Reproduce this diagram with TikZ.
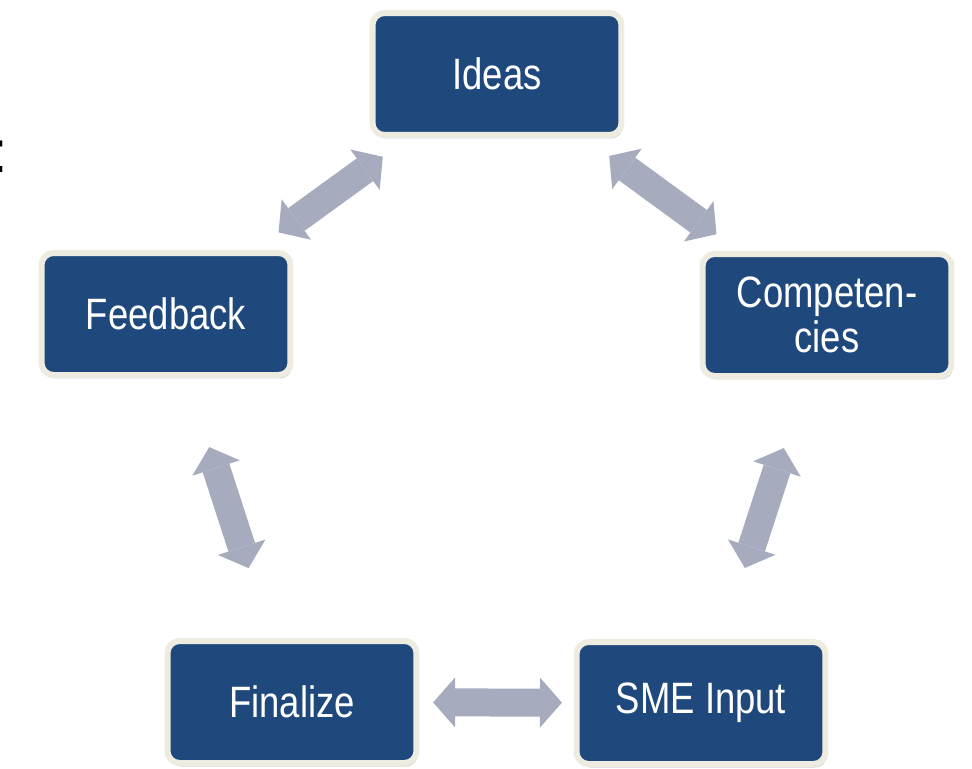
\documentclass[tikz,border=0pt]{standalone}
\usepackage{fontspec}
\setmainfont[FakeStretch=0.83]{Liberation Sans}
\usetikzlibrary{arrows.meta,calc,shadows}
\definecolor{boxblue}{HTML}{1F497D}
\definecolor{boxrim}{HTML}{EEECE1}
\definecolor{linkgray}{HTML}{A6ACBD}
\tikzset{
  stage/.style={draw=boxrim, line width=0.12cm, fill=boxblue, rounded corners=0.24cm,
    minimum width=4.98cm, minimum height=2.44cm, text=white, align=center,
    font=\fontsize{25}{25.5}\selectfont,
    drop shadow={shadow xshift=0.03cm, shadow yshift=-0.07cm, opacity=0.3, fill=black!60}},
  link/.style={draw=linkgray, line width=0.56cm,
    {Triangle[width=1cm,length=0.44cm,line width=0pt]}-{Triangle[width=1cm,length=0.44cm,line width=0pt]}},
}
\begin{document}
\begin{tikzpicture}[x=0.02cm, y=-0.02cm]
    \useasboundingbox (0,0) rectangle (972,768);
    \node[stage] (ideas) at (497,74) {Ideas};
    \node[stage] (feedback) at (166,314) {Feedback};
    \node[stage] (competencies) at (827,315) {Competen-\\cies};
    \node[stage] (finalize) at (292,702) {Finalize};
    \node[stage] (sme) at (701,703) {SME Input};
    \node[anchor=base west, inner sep=0, font=\fontsize{34}{34}\selectfont] (colon) at (-6.5,172) {:};
    \draw[link] ($(ideas)!.345!(feedback)$) -- ($(ideas)!.66!(feedback)$);
    \draw[link] ($(ideas)!.34!(competencies)$) -- ($(ideas)!.665!(competencies)$);
    \draw[link] ($(competencies)!.343!(sme)$) -- ($(competencies)!.652!(sme)$);
    \draw[link] ($(feedback)!.343!(finalize)$) -- ($(feedback)!.655!(finalize)$);
    \draw[link] ($(finalize)!.345!(sme)$) -- ($(finalize)!.66!(sme)$);
\end{tikzpicture}
\end{document}
